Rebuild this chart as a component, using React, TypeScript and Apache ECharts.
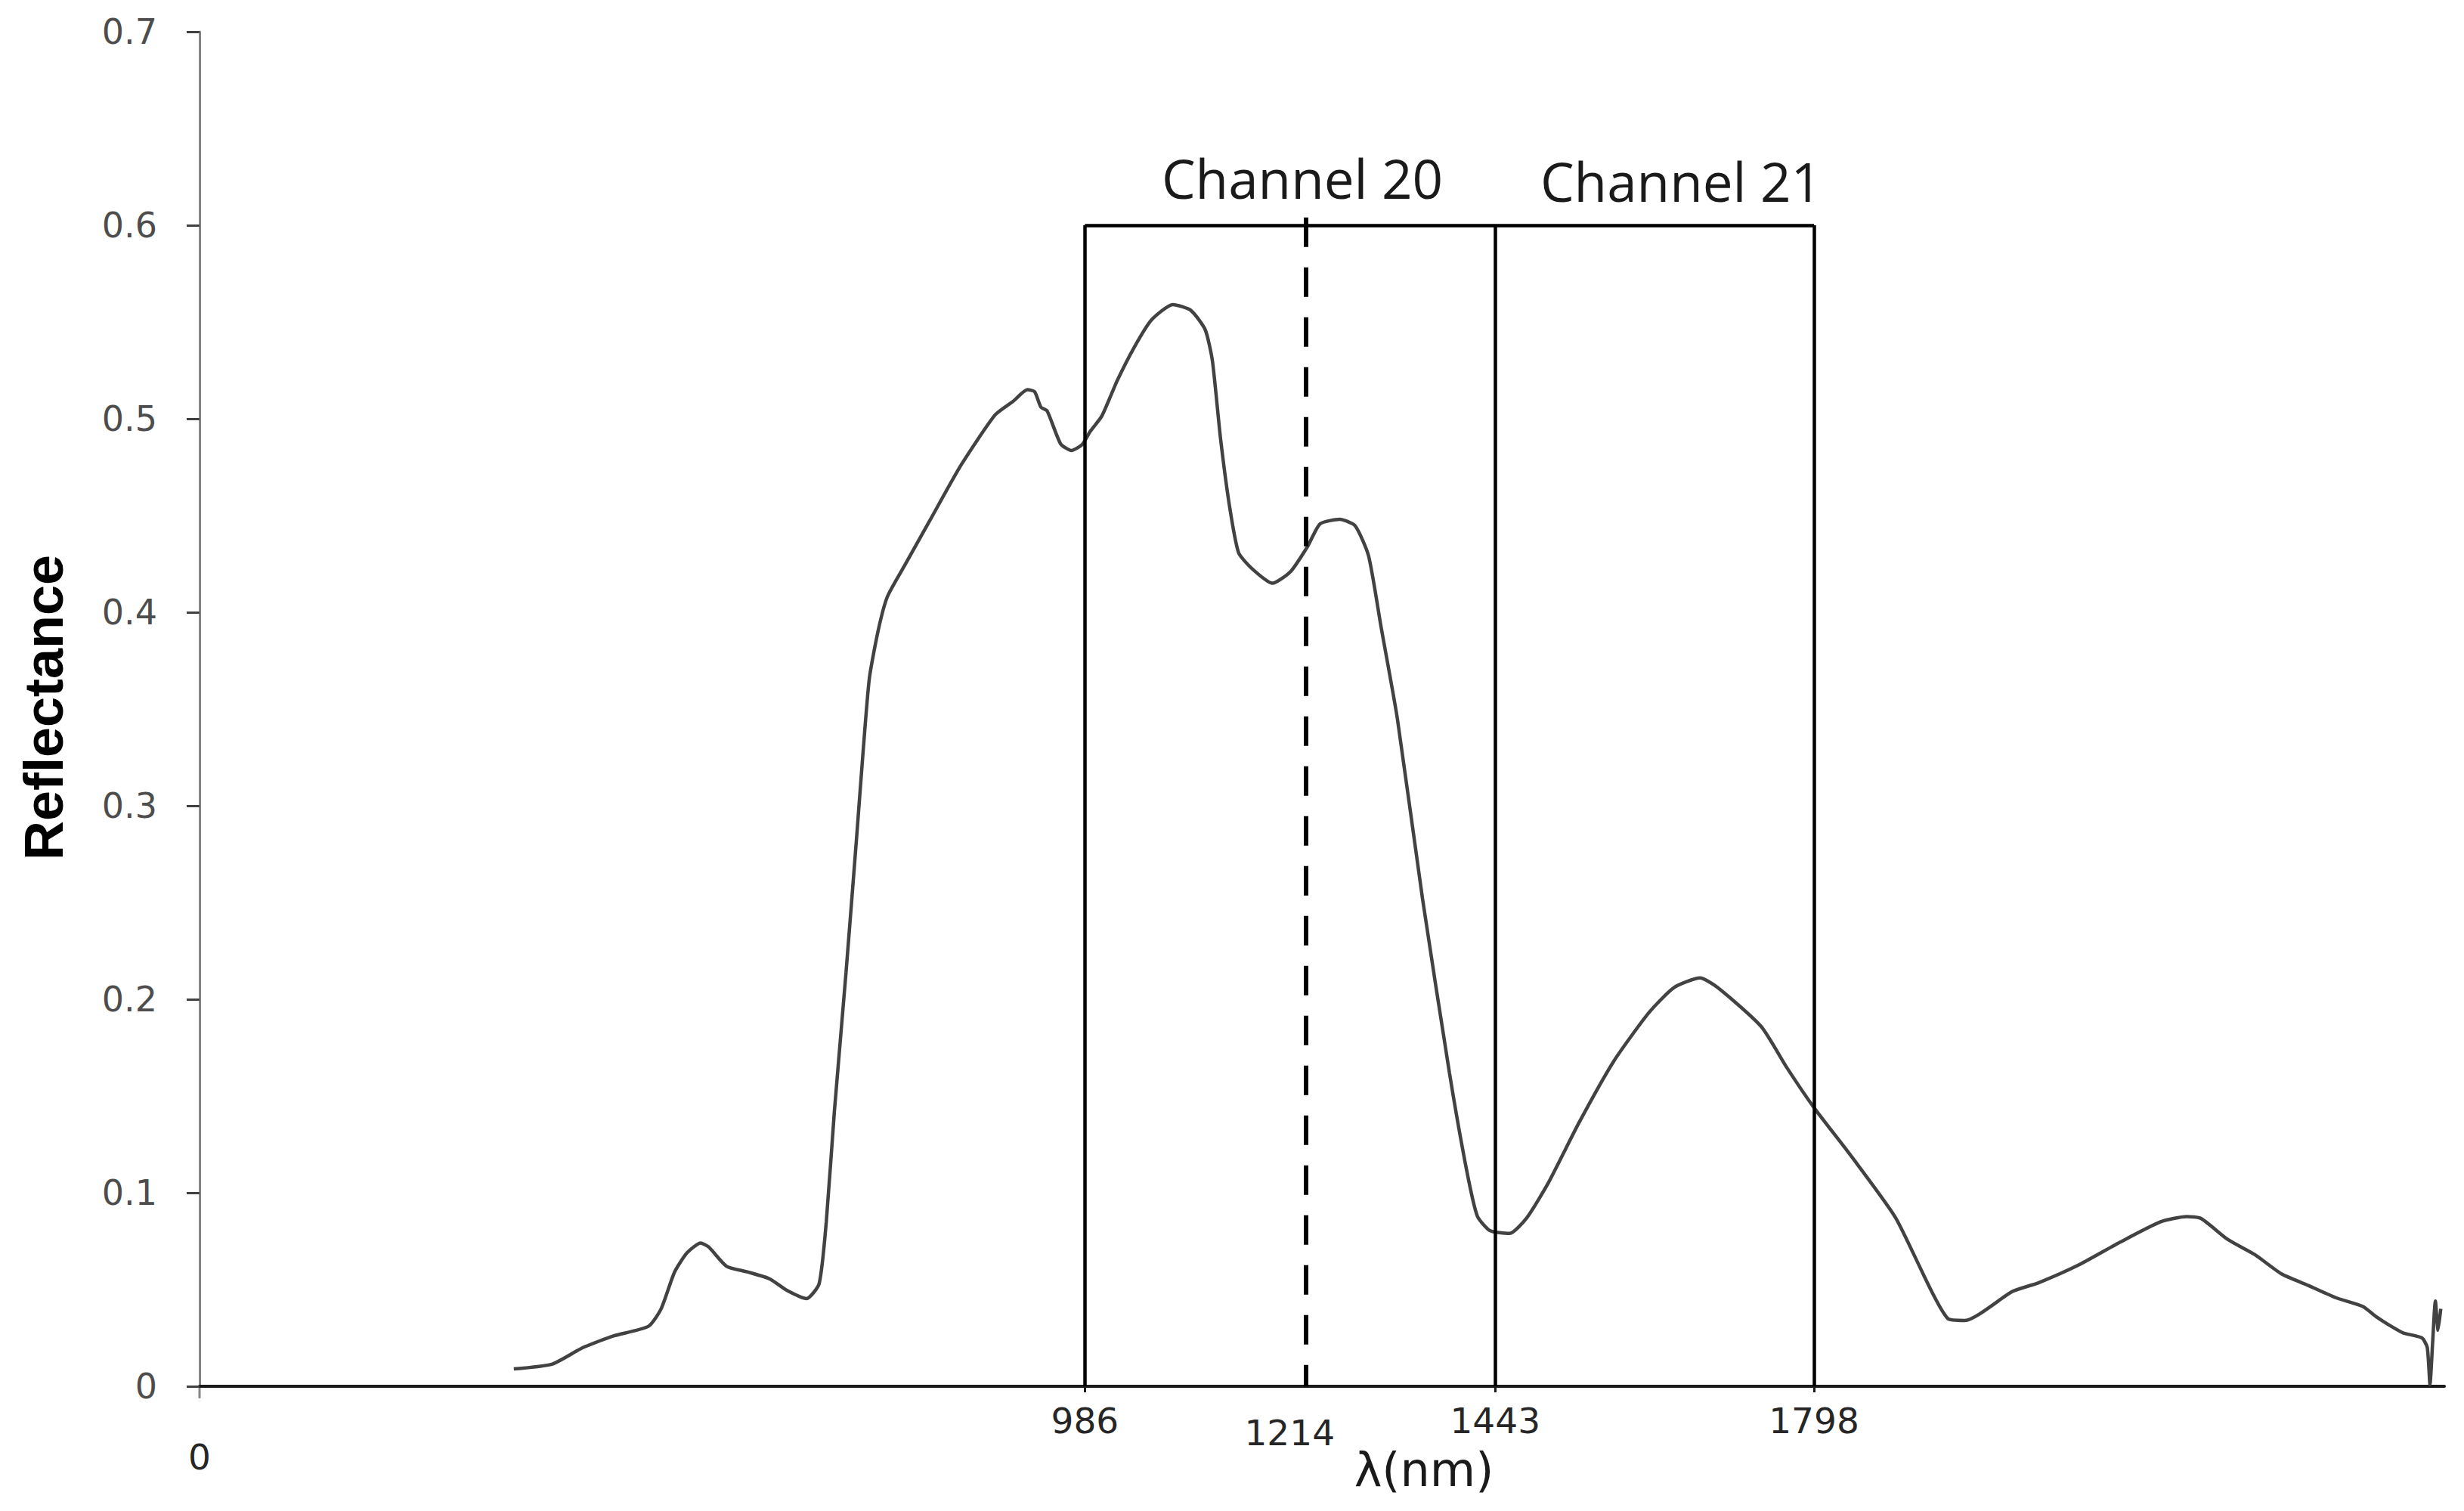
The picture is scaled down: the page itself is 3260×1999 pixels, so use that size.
import React, { useEffect, useRef } from "react";
import * as echarts from "echarts";

// Wavelength (nm) and reflectance
const wavelengths = [
  350, 393, 427, 461, 500, 514, 529, 543, 558, 567, 587, 611, 635, 654, 676, 690, 698, 707, 720, 732,
  739, 746, 756, 766, 785, 814, 848, 886, 906, 922, 930, 937, 944, 959, 971, 983, 992, 1005, 1022, 1041,
  1060, 1084, 1104, 1120, 1128, 1137, 1147, 1157, 1171, 1195, 1215, 1234, 1248, 1270, 1287, 1302, 1316, 1334, 1362, 1392,
  1411, 1423, 1437, 1459, 1478, 1502, 1536, 1575, 1614, 1642, 1671, 1691, 1739, 1768, 1798, 1841, 1889, 1947, 1966, 2019,
  2048, 2094, 2139, 2184, 2213, 2229, 2259, 2289, 2319, 2349, 2379, 2409, 2424, 2439, 2454, 2475, 2481, 2484, 2487, 2490,
  2493, 2496,
];
const reflectance = [
  0.009, 0.0115, 0.02, 0.026, 0.031, 0.04, 0.059, 0.069, 0.074, 0.072, 0.062, 0.059, 0.0555, 0.0496, 0.0453, 0.053, 0.085, 0.142, 0.214, 0.285,
  0.328, 0.366, 0.391, 0.408, 0.424, 0.448, 0.476, 0.502, 0.509, 0.515, 0.514, 0.506, 0.504, 0.487, 0.4836, 0.4867, 0.4935, 0.5015, 0.5197, 0.537,
  0.551, 0.559, 0.556, 0.546, 0.53, 0.49, 0.455, 0.431, 0.423, 0.415, 0.421, 0.434, 0.4457, 0.448, 0.4447, 0.429, 0.392, 0.345, 0.252, 0.162,
  0.112, 0.088, 0.0805, 0.079, 0.087, 0.105, 0.136, 0.168, 0.193, 0.206, 0.211, 0.206, 0.186, 0.1645, 0.144, 0.118, 0.087, 0.035, 0.034, 0.049,
  0.0535, 0.063, 0.0745, 0.085, 0.0877, 0.0867, 0.0758, 0.068, 0.058, 0.052, 0.0458, 0.0413, 0.036, 0.0315, 0.0276, 0.025, 0.02, 0.001, 0.023, 0.044,
  0.029, 0.04,
];

// Channel boundaries (nm) and box height
const channelEdges = [986, 1443, 1798];
const dashedLineNm = 1232;
const boxTop = 0.6;
const xTickLabels = [0, 986, 1214, 1443, 1798];
const channelNames = ["Channel 20", "Channel 21"];

export default function App() {
  const ref = useRef<HTMLDivElement>(null);

  useEffect(() => {
    if (!ref.current) return;
    const chart = echarts.init(ref.current, null, { renderer: "svg" });
    const seriesData = wavelengths.map((w, i) => [w, reflectance[i]]);

    const boxLines: any[] = channelEdges.map((e) => [
      { coord: [e, 0] },
      { coord: [e, boxTop] },
    ]);
    boxLines.push([
      { coord: [channelEdges[0], boxTop] },
      { coord: [channelEdges[2], boxTop] },
    ]);
    boxLines.push([
      { coord: [dashedLineNm, boxTop + 0.004], lineStyle: { type: [39, 27], width: 6, color: "#000" } },
      { coord: [dashedLineNm, 0] },
    ]);

    const centered = { align: "center", verticalAlign: "middle", textAlign: "center", textVerticalAlign: "middle" };

    chart.setOption({
      animation: false,
      backgroundColor: "#ffffff",
      grid: { left: 264, right: 26, top: 42, bottom: 165, containLabel: false },
      xAxis: {
        type: "value",
        min: 0,
        max: 2500,
        splitLine: { show: false },
        axisLine: { show: true, onZero: false, lineStyle: { color: "#1a1a1a", width: 4 } },
        axisTick: {
          show: true,
          customValues: channelEdges,
          length: 8,
          lineStyle: { color: "#1a1a1a", width: 3 },
        },
        axisLabel: {
          show: true,
          customValues: xTickLabels,
          margin: 22,
          fontFamily: "DejaVu Sans",
          fontSize: 47,
          color: "#262626",
          formatter: (v: number) => {
            if (v === 0) return "{z|0}";
            if (v === 1214) return "{m|1214}";
            return "{a|" + v + "}";
          },
          rich: {
            a: { fontFamily: "DejaVu Sans", fontSize: 47, color: "#262626" },
            m: { fontFamily: "DejaVu Sans", fontSize: 47, color: "#262626", padding: [16, 0, 0, 0] },
            z: { fontFamily: "DejaVu Sans", fontSize: 47, color: "#262626", padding: [48, 0, 0, 0] },
          },
        },
      },
      yAxis: {
        type: "value",
        min: 0,
        max: 0.7,
        interval: 0.1,
        splitLine: { show: false },
        axisLine: { show: true, lineStyle: { color: "#868686", width: 3 } },
        axisTick: { show: true, length: 17, lineStyle: { color: "#404040", width: 3 } },
        axisLabel: {
          margin: 56,
          fontFamily: "DejaVu Sans",
          fontSize: 46,
          color: "#4d4d4d",
          formatter: (v: number) => (v === 0 ? "0" : v.toFixed(1)),
        },
      },
      series: [
        {
          type: "line",
          data: seriesData,
          showSymbol: false,
          symbol: "none",
          smooth: 0.2,
          lineStyle: { color: "#424242", width: 4.5 },
          markLine: {
            silent: true,
            symbol: ["none", "none"],
            label: { show: false },
            lineStyle: { color: "#000", width: 4.5, type: "solid" },
            data: boxLines,
          },
        },
      ],
      graphic: [
        {
          type: "line",
          shape: { x1: 264, y1: 1834, x2: 264, y2: 1850 },
          style: { stroke: "#868686", lineWidth: 3 },
        },
        {
          type: "text",
          x: 58,
          y: 936,
          rotation: Math.PI / 2,
          style: {
            text: "Reflectance",
            font: "bold 72px 'Liberation Sans', Arial, sans-serif",
            fill: "#000",
            ...centered,
          },
        },
        {
          type: "text",
          x: 1884,
          y: 1944,
          style: {
            text: "λ(nm)",
            font: "62px 'DejaVu Sans', sans-serif",
            fill: "#1a1a1a",
            ...centered,
          },
        },
        {
          type: "text",
          x: 1723,
          y: 235,
          style: {
            text: channelNames[0],
            font: "71px 'Open Sans', sans-serif",
            fill: "#1a1a1a",
            ...centered,
          },
        },
        {
          type: "text",
          x: 2224,
          y: 239,
          style: {
            text: channelNames[1],
            font: "71px 'Open Sans', sans-serif",
            fill: "#1a1a1a",
            ...centered,
          },
        },
      ],
    });

    return () => chart.dispose();
  }, []);

  return (
    <div
      ref={ref}
      style={{ position: "absolute", left: 0, top: 0, width: 3260, height: 1999, background: "#fff" }}
    />
  );
}
